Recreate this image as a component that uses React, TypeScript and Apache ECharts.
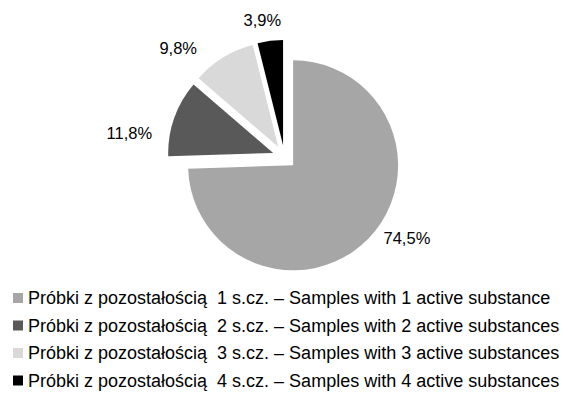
import React, { useEffect, useRef } from "react";
import * as echarts from "echarts";

const categories = [
  "Próbki z pozostałością  1 s.cz. – Samples with 1 active substance",
  "Próbki z pozostałością  2 s.cz. – Samples with 2 active substances",
  "Próbki z pozostałością  3 s.cz. – Samples with 3 active substances",
  "Próbki z pozostałością  4 s.cz. – Samples with 4 active substances",
];
const values = [74.5, 11.8, 9.8, 3.9];
const colors = ["#a6a6a6", "#595959", "#d9d9d9", "#000000"];

const labelNudges: [number, number][] = [
  [10, 0],
  [-22, 15],
  [-19, -14],
  [16, -21],
];

export default function App() {
  const ref = useRef<HTMLDivElement>(null);
  useEffect(() => {
    if (!ref.current) return;
    const chart = echarts.init(ref.current, undefined, { renderer: "svg" });
    const font = "'Liberation Sans', Arial, sans-serif";
    chart.setOption({
      animation: false,
      backgroundColor: "#ffffff",
      legend: {
        orient: "vertical",
        left: 8,
        top: 284,
        itemWidth: 10,
        itemHeight: 10,
        itemGap: 9.5,
        icon: "rect",
        selectedMode: false,
        textStyle: { fontFamily: font, fontSize: 18, color: "#000" },
        data: categories,
      },
      series: [
        {
          type: "pie",
          center: [284.5, 157],
          radius: 105,
          startAngle: 90,
          clockwise: true,
          selectedMode: "multiple",
          selectedOffset: 12,
          emphasis: { disabled: true },
          itemStyle: { borderWidth: 0 },
          label: {
            show: true,
            position: "outside",
            fontFamily: font,
            fontSize: 16.5,
            color: "#000",
            distanceToLabelLine: 5,
            formatter: (p: any) => p.value.toFixed(1).replace(".", ",") + "%",
          },
          labelLine: { show: false, length: 0, length2: 0 },
          labelLayout: (p: any) => ({
            dx: labelNudges[p.dataIndex][0],
            dy: labelNudges[p.dataIndex][1],
          }),
          data: categories.map((name, i) => ({
            name,
            value: values[i],
            selected: true,
            itemStyle: { color: colors[i] },
            select: { itemStyle: { color: colors[i] } },
          })),
        },
      ],
    });
    return () => chart.dispose();
  }, []);
  return (
    <div
      ref={ref}
      style={{ position: "absolute", left: 0, top: 0, width: 563, height: 405 }}
    />
  );
}
